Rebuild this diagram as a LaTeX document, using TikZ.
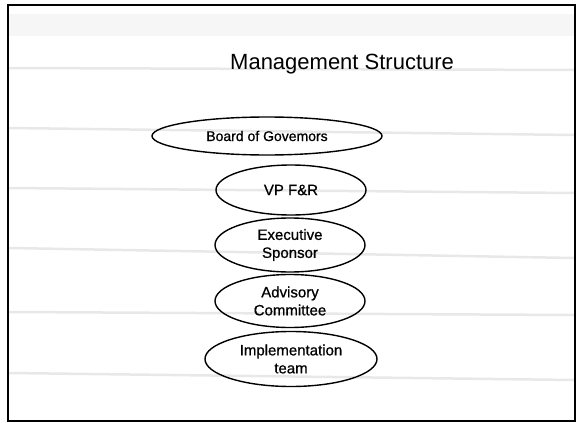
\documentclass[tikz,border=0pt]{standalone}
\usepackage{fontspec}
\setmainfont{Liberation Sans}
\newfontfamily\scanfont[FakeBold=0.8]{Liberation Sans}
\usetikzlibrary{shapes.geometric}

\begin{document}
\begin{tikzpicture}[x=1pt,y=-1pt,
    scanline/.style={gray!18, line width=2.5pt},
    role/.style={draw, ellipse, line width=1.4pt, inner sep=0pt, align=center,
      font=\scanfont\fontsize{15}{18}\selectfont}]
  \useasboundingbox (0,0) rectangle (576,423);
  % faint lines of the scanned page
  \fill [gray!7] (9,14) rectangle (574,36);
  \draw [scanline] (9,68) -- (574,70);
  \draw [scanline] (9,128) -- (574,135);
  \draw [scanline] (9,188) -- (574,193);
  \draw [scanline] (9,248) -- (574,258);
  \draw [scanline] (9,312) -- (574,315);
  \draw [scanline] (9,373) -- (574,380);
  % frame of the slide
  \draw [line width=1.8pt] (8,5) rectangle (575,421);
  \node [anchor=base west, inner sep=0pt] (title) at (230,69)
    {\fontsize{22}{26}\selectfont Management Structure};
  \node [role, minimum width=230pt, minimum height=38pt,
    font=\scanfont\fontsize{14}{16}\selectfont] (board) at (267,136) {Board of Govemors};
  \node [role, minimum width=150pt, minimum height=50pt] (vp) at (291,190) {VP F\&R};
  \node [role, minimum width=150pt, minimum height=54pt] (sponsor) at (290,245) {Executive\\Sponsor};
  \node [role, minimum width=150pt, minimum height=53pt] (advisory) at (290,301) {Advisory\\Committee};
  \node [role, minimum width=172pt, minimum height=55pt] (team) at (291,359) {Implementation\\team};
\end{tikzpicture}
\end{document}
